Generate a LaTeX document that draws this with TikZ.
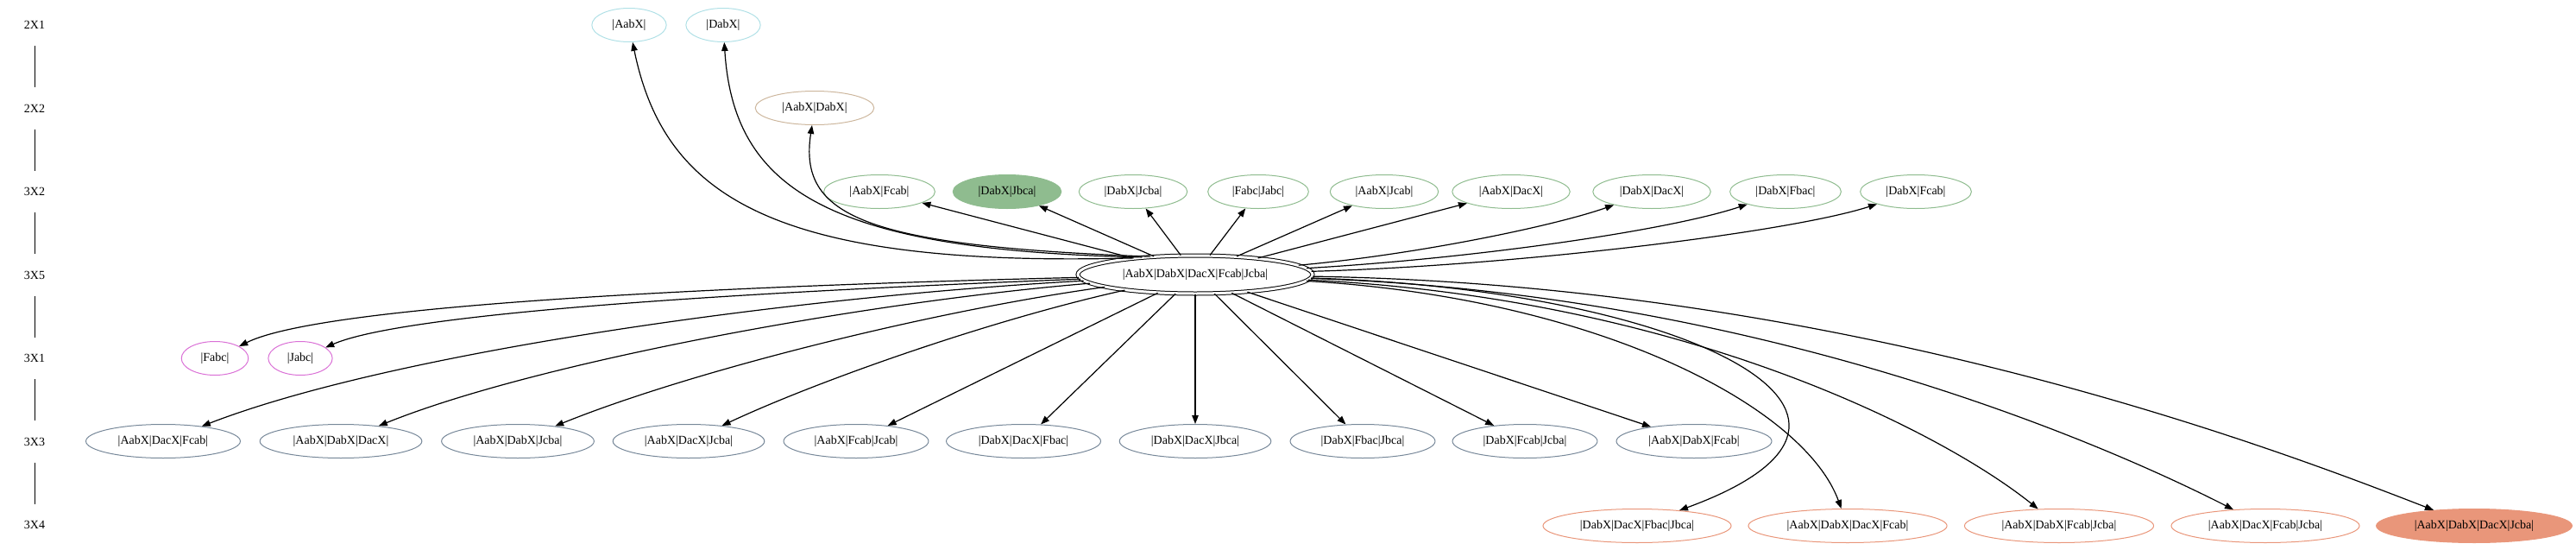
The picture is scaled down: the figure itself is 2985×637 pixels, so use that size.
\documentclass[tikz,border=0pt]{standalone}
\usepackage{fontspec}
\setmainfont{Liberation Serif}
\usepackage{tikz}
\usetikzlibrary{arrows.meta,shapes.geometric}

\definecolor{ranka}{RGB}{176,224,230}
\definecolor{rankb}{RGB}{205,183,158}
\definecolor{rankc}{RGB}{143,188,143}
\definecolor{rankd}{RGB}{218,112,214}
\definecolor{ranke}{RGB}{119,136,153}
\definecolor{rankf}{RGB}{233,150,122}

\tikzset{
    oval/.style={ellipse, draw, line width=1pt, minimum height=39pt, inner xsep=11pt, inner ysep=2pt},
    rank/.style={minimum height=48pt, inner sep=0pt},
    link/.style={-{Triangle[length=10pt,width=7.5pt]}, line width=1.2pt},
}

\begin{document}
\begin{tikzpicture}[x=1pt, y=1pt, font=\fontsize{14}{16}\selectfont]
    \useasboundingbox (0,0) rectangle (2985,-637);

    % rank column
    \node[rank] (r2x1) at (40,-29) {2X1};
    \node[rank] (r2x2) at (40,-125.5) {2X2};
    \node[rank] (r3x2) at (40,-222) {3X2};
    \node[rank] (r3x5) at (40,-318.5) {3X5};
    \node[rank] (r3x1) at (40,-415) {3X1};
    \node[rank] (r3x3) at (40,-511.5) {3X3};
    \node[rank] (r3x4) at (40,-608) {3X4};
    \draw[line width=0.9pt] (r2x1) -- (r2x2);
    \draw[line width=0.9pt] (r2x2) -- (r3x2);
    \draw[line width=0.9pt] (r3x2) -- (r3x5);
    \draw[line width=0.9pt] (r3x5) -- (r3x1);
    \draw[line width=0.9pt] (r3x1) -- (r3x3);
    \draw[line width=0.9pt] (r3x3) -- (r3x4);

    % 2X1 and 2X2
    \node[oval, draw=ranka] (aabx) at (729,-29) {|AabX|};
    \node[oval, draw=ranka] (dabx) at (838,-29) {|DabX|};
    \node[oval, draw=rankb] (aabx_dabx) at (944,-125) {|AabX|DabX|};

    % 3X2
    \node[oval, draw=rankc] (aabx_fcab) at (1019,-222) {|AabX|Fcab|};
    \node[oval, draw=rankc, fill=rankc] (dabx_jbca) at (1167,-222) {|DabX|Jbca|};
    \node[oval, draw=rankc] (dabx_jcba) at (1313,-222) {|DabX|Jcba|};
    \node[oval, draw=rankc] (fabc_jabc) at (1458,-222) {|Fabc|Jabc|};
    \node[oval, draw=rankc] (aabx_jcab) at (1604,-222) {|AabX|Jcab|};
    \node[oval, draw=rankc] (aabx_dacx) at (1751,-222) {|AabX|DacX|};
    \node[oval, draw=rankc] (dabx_dacx) at (1914,-222) {|DabX|DacX|};
    \node[oval, draw=rankc] (dabx_fbac) at (2069,-222) {|DabX|Fbac|};
    \node[oval, draw=rankc] (dabx_fcab) at (2220,-222) {|DabX|Fcab|};

    % 3X5
    \node[oval, double, double distance=3pt, minimum width=272pt, minimum height=44pt] (main) at (1385,-318) {|AabX|DabX|DacX|Fcab|Jcba|};

    % 3X1
    \node[oval, draw=rankd] (fabc) at (249,-415) {|Fabc|};
    \node[oval, draw=rankd] (jabc) at (348,-415) {|Jabc|};

    % 3X3
    \node[oval, draw=ranke] (aabx_dacx_fcab) at (189,-511) {|AabX|DacX|Fcab|};
    \node[oval, draw=ranke] (aabx_dabx_dacx) at (395,-511) {|AabX|DabX|DacX|};
    \node[oval, draw=ranke] (aabx_dabx_jcba) at (600,-511) {|AabX|DabX|Jcba|};
    \node[oval, draw=ranke] (aabx_dacx_jcba) at (798,-511) {|AabX|DacX|Jcba|};
    \node[oval, draw=ranke] (aabx_fcab_jcab) at (992,-511) {|AabX|Fcab|Jcab|};
    \node[oval, draw=ranke] (dabx_dacx_fbac) at (1186,-511) {|DabX|DacX|Fbac|};
    \node[oval, draw=ranke] (dabx_dacx_jbca) at (1385,-511) {|DabX|DacX|Jbca|};
    \node[oval, draw=ranke] (dabx_fbac_jbca) at (1579,-511) {|DabX|Fbac|Jbca|};
    \node[oval, draw=ranke] (dabx_fcab_jcba) at (1767,-511) {|DabX|Fcab|Jcba|};
    \node[oval, draw=ranke] (aabx_dabx_fcab) at (1963,-511) {|AabX|DabX|Fcab|};

    % 3X4
    \node[oval, draw=rankf] (dabx_dacx_fbac_jbca) at (1897,-609) {|DabX|DacX|Fbac|Jbca|};
    \node[oval, draw=rankf] (aabx_dabx_dacx_fcab) at (2141,-609) {|AabX|DabX|DacX|Fcab|};
    \node[oval, draw=rankf] (aabx_dabx_fcab_jcba) at (2386,-609) {|AabX|DabX|Fcab|Jcba|};
    \node[oval, draw=rankf] (aabx_dacx_fcab_jcba) at (2625,-609) {|AabX|DacX|Fcab|Jcba|};
    \node[oval, draw=rankf, fill=rankf] (aabx_dabx_dacx_jcba) at (2867,-609) {|AabX|DabX|DacX|Jcba|};

    % upwards
    \draw[link] (main.165) .. controls (900,-310) and (770,-230) .. (aabx);
    \draw[link] (main.162) .. controls (960,-290) and (850,-220) .. (dabx);
    \draw[link] (main.158) .. controls (1000,-285) and (925,-250) .. (aabx_dabx);
    \draw[link] (main) -- (aabx_fcab);
    \draw[link] (main) -- (dabx_jbca);
    \draw[link] (main) -- (dabx_jcba);
    \draw[link] (main) -- (fabc_jabc);
    \draw[link] (main) -- (aabx_jcab);
    \draw[link] (main) -- (aabx_dacx);
    \draw[link] (main) .. controls (1640,-295) and (1800,-262) .. (dabx_dacx);
    \draw[link] (main) .. controls (1700,-300) and (1930,-268) .. (dabx_fbac);
    \draw[link] (main) .. controls (1750,-308) and (2070,-270) .. (dabx_fcab);

    % downwards
    \draw[link] (main) .. controls (900,-330) and (380,-350) .. (fabc);
    \draw[link] (main) .. controls (950,-335) and (480,-358) .. (jabc);
    \draw[link] (main) .. controls (900,-345) and (450,-410) .. (aabx_dacx_fcab);
    \draw[link] (main) .. controls (1000,-350) and (620,-420) .. (aabx_dabx_dacx);
    \draw[link] (main) .. controls (1080,-360) and (800,-430) .. (aabx_dabx_jcba);
    \draw[link] (main) .. controls (1150,-370) and (950,-440) .. (aabx_dacx_jcba);
    \draw[link] (main) -- (aabx_fcab_jcab);
    \draw[link] (main) -- (dabx_dacx_fbac);
    \draw[link] (main) -- (dabx_dacx_jbca);
    \draw[link] (main) -- (dabx_fbac_jbca);
    \draw[link] (main) -- (dabx_fcab_jcba);
    \draw[link] (main) -- (aabx_dabx_fcab);
    \draw[link] (main) .. controls (1950,-335) and (2250,-480) .. (dabx_dacx_fbac_jbca);
    \draw[link] (main) .. controls (1850,-345) and (2090,-470) .. (aabx_dabx_dacx_fcab);
    \draw[link] (main) .. controls (1950,-345) and (2250,-500) .. (aabx_dabx_fcab_jcba);
    \draw[link] (main) .. controls (2050,-340) and (2450,-520) .. (aabx_dacx_fcab_jcba);
    \draw[link] (main) .. controls (2150,-330) and (2650,-525) .. (aabx_dabx_dacx_jcba);

\end{tikzpicture}
\end{document}
